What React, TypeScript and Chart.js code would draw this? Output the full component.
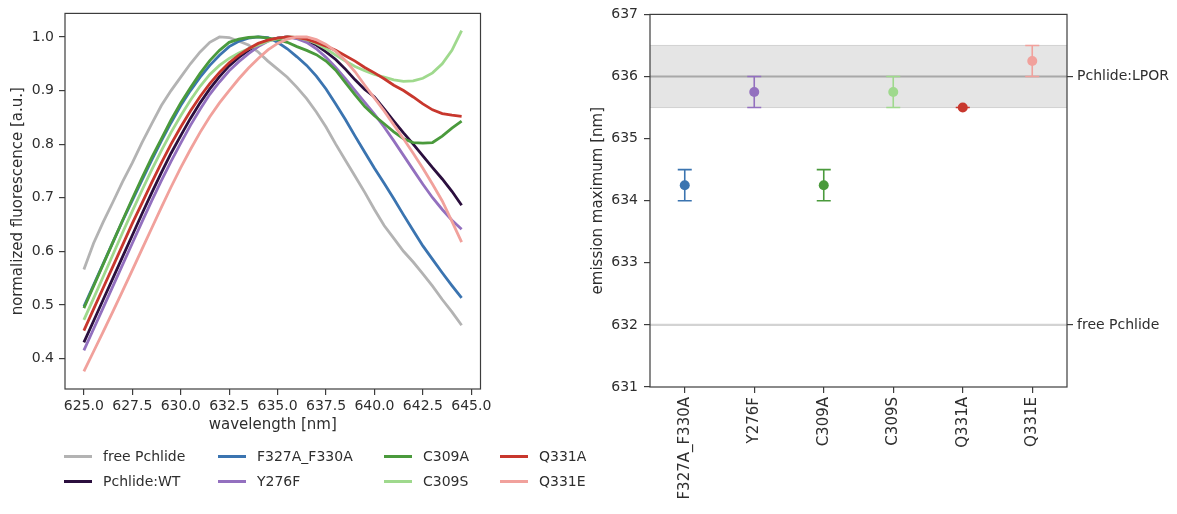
import React, { useEffect, useRef } from "react";
import { Chart, registerables } from "chart.js";

Chart.register(...registerables);

// ---------- data: left panel (normalized fluorescence spectra) ----------
const wavelengths = [
  625, 625.5, 626, 626.5, 627, 627.5, 628, 628.5, 629, 629.5,
  630, 630.5, 631, 631.5, 632, 632.5, 633, 633.5, 634, 634.5,
  635, 635.5, 636, 636.5, 637, 637.5, 638, 638.5, 639, 639.5,
  640, 640.5, 641, 641.5, 642, 642.5, 643, 643.5, 644, 644.5,
];

const freePchlide = [
  0.566, 0.615, 0.655, 0.692, 0.73, 0.765, 0.803, 0.838, 0.872, 0.9,
  0.925, 0.95, 0.972, 0.99, 1.0, 0.999, 0.992, 0.985, 0.972, 0.955,
  0.94, 0.925, 0.906, 0.885, 0.86, 0.832, 0.8, 0.77, 0.74, 0.71,
  0.678, 0.648, 0.624, 0.6, 0.58, 0.558, 0.535, 0.51, 0.487, 0.462,
];
const pchlideWT = [
  0.43, 0.47, 0.51, 0.55, 0.59, 0.63, 0.67, 0.709, 0.747, 0.783,
  0.816, 0.848, 0.877, 0.903, 0.926, 0.946, 0.962, 0.975, 0.986, 0.994,
  0.998, 1.0, 0.998, 0.993, 0.985, 0.972, 0.958, 0.94, 0.92, 0.902,
  0.888, 0.866, 0.843, 0.821, 0.8, 0.778, 0.756, 0.735, 0.712, 0.686,
];
const f327aF330a = [
  0.497, 0.537, 0.577, 0.617, 0.657, 0.695, 0.733, 0.77, 0.806, 0.84,
  0.872, 0.9, 0.925, 0.947, 0.966, 0.982, 0.992, 0.998, 1.0, 0.999,
  0.99, 0.978, 0.963, 0.947, 0.927, 0.903, 0.875, 0.846, 0.815, 0.785,
  0.755, 0.727, 0.698, 0.668, 0.639, 0.61, 0.585, 0.56, 0.536, 0.513,
];
const y276f = [
  0.415, 0.455, 0.495, 0.535, 0.575, 0.615, 0.655, 0.694, 0.732, 0.768,
  0.802, 0.835, 0.865, 0.893, 0.916, 0.937, 0.954, 0.969, 0.982, 0.992,
  0.998, 1.0, 0.997, 0.99, 0.978, 0.962, 0.943, 0.922, 0.9, 0.878,
  0.856, 0.832, 0.806, 0.779, 0.752, 0.725, 0.7, 0.678, 0.658, 0.641,
];
const c309a = [
  0.494, 0.535, 0.576, 0.617, 0.658, 0.698, 0.737, 0.775, 0.81, 0.845,
  0.877, 0.905, 0.932, 0.956, 0.975, 0.99, 0.996, 0.999, 1.0, 0.998,
  0.995, 0.99, 0.982, 0.975, 0.967, 0.955, 0.938, 0.915, 0.892, 0.87,
  0.853, 0.838, 0.823, 0.81, 0.803, 0.802, 0.803, 0.815, 0.83, 0.843,
];
const c309s = [
  0.472, 0.512, 0.553, 0.594, 0.635, 0.675, 0.714, 0.752, 0.788, 0.822,
  0.853, 0.882, 0.908, 0.93, 0.947, 0.96, 0.97, 0.978, 0.985, 0.992,
  0.997, 1.0, 0.999, 0.995, 0.988, 0.978, 0.966, 0.955, 0.945, 0.937,
  0.93, 0.925, 0.92, 0.917, 0.918, 0.923, 0.933, 0.95, 0.975, 1.012,
];
const q331a = [
  0.452, 0.492, 0.532, 0.572, 0.612, 0.652, 0.69, 0.728, 0.765, 0.8,
  0.832, 0.862, 0.889, 0.913, 0.934, 0.952, 0.966, 0.978, 0.988, 0.994,
  0.998, 1.0, 0.999, 0.996, 0.99, 0.983, 0.975, 0.965, 0.955, 0.943,
  0.933, 0.922, 0.91, 0.9, 0.888, 0.875, 0.864, 0.857, 0.854, 0.852,
];
const q331e = [
  0.376, 0.413, 0.45, 0.488, 0.526, 0.565, 0.604, 0.643, 0.682, 0.72,
  0.756, 0.79, 0.822, 0.851, 0.877, 0.9, 0.922, 0.942, 0.96, 0.976,
  0.988, 0.996, 1.0, 1.0, 0.995, 0.986, 0.973, 0.956, 0.935, 0.91,
  0.886, 0.862, 0.836, 0.81, 0.783, 0.755, 0.725, 0.694, 0.656, 0.617,
];

const seriesNames = [
  "free Pchlide", "Pchlide:WT", "F327A_F330A", "Y276F",
  "C309A", "C309S", "Q331A", "Q331E",
];
const seriesValues = [freePchlide, pchlideWT, f327aF330a, y276f, c309a, c309s, q331a, q331e];
const seriesColors = [
  "#b3b3b3", "#2b0f3e", "#3b74b0", "#9370bf",
  "#4a9a3c", "#9fd98d", "#c8372d", "#f1a19c",
];

const xTicks = [625, 627.5, 630, 632.5, 635, 637.5, 640, 642.5, 645];
const yTicks = [0.4, 0.5, 0.6, 0.7, 0.8, 0.9, 1.0];

// ---------- data: right panel (emission maximum) ----------
const categories = ["F327A_F330A", "Y276F", "C309A", "C309S", "Q331A", "Q331E"];
const emissionMax = [634.25, 635.75, 634.25, 635.75, 635.5, 636.25];
const emissionErr = [0.25, 0.25, 0.25, 0.25, 0, 0.25];
const categoryColors = ["#3b74b0", "#9370bf", "#4a9a3c", "#9fd98d", "#c8372d", "#f1a19c"];
const emTicks = [631, 632, 633, 634, 635, 636, 637];
const refTicks = [632, 636];
const refLabels = ["free Pchlide", "Pchlide:LPOR"];
const lporBand = [635.5, 636.5];
const lporLine = 636;
const freeLine = 632;

// ---------- styling ----------
const FONT_FAMILY = "'DejaVu Sans', sans-serif";
const TEXT = "#2e2e2e";
const FRAME = "#3d3d3d";
const font = { family: FONT_FAMILY, size: 14 };
const titleFont = { family: FONT_FAMILY, size: 15 };

const framePlugin = {
  id: "frame",
  afterDraw(chart: any) {
    const { ctx, chartArea: a } = chart;
    ctx.save();
    ctx.strokeStyle = FRAME;
    ctx.lineWidth = 1.2;
    ctx.strokeRect(a.left, a.top, a.right - a.left, a.bottom - a.top);
    ctx.restore();
  },
};

const refPlugin = {
  id: "refLines",
  beforeDatasetsDraw(chart: any) {
    const { ctx, chartArea: a } = chart;
    const y = chart.scales.y;
    const yHi = y.getPixelForValue(lporBand[1]);
    const yLo = y.getPixelForValue(lporBand[0]);
    ctx.save();
    ctx.fillStyle = "#e5e5e5";
    ctx.fillRect(a.left, yHi, a.right - a.left, yLo - yHi);
    ctx.strokeStyle = "#d2d2d2";
    ctx.lineWidth = 1;
    ctx.beginPath();
    ctx.moveTo(a.left, yHi); ctx.lineTo(a.right, yHi);
    ctx.moveTo(a.left, yLo); ctx.lineTo(a.right, yLo);
    ctx.stroke();
    const yL = y.getPixelForValue(lporLine);
    ctx.strokeStyle = "#a8a8a8";
    ctx.lineWidth = 2;
    ctx.beginPath(); ctx.moveTo(a.left, yL); ctx.lineTo(a.right, yL); ctx.stroke();
    const yF = y.getPixelForValue(freeLine);
    ctx.strokeStyle = "#d3d3d3";
    ctx.lineWidth = 2.2;
    ctx.beginPath(); ctx.moveTo(a.left, yF); ctx.lineTo(a.right, yF); ctx.stroke();
    ctx.restore();
  },
};

const errorBarPlugin = {
  id: "errorBars",
  beforeDatasetsDraw(chart: any) {
    const { ctx } = chart;
    const x = chart.scales.x;
    const y = chart.scales.y;
    ctx.save();
    ctx.lineWidth = 1.6;
    categories.forEach((_c, i) => {
      const px = x.getPixelForValue(i);
      const top = y.getPixelForValue(emissionMax[i] + emissionErr[i]);
      const bot = y.getPixelForValue(emissionMax[i] - emissionErr[i]);
      ctx.strokeStyle = categoryColors[i];
      ctx.beginPath();
      ctx.moveTo(px, top); ctx.lineTo(px, bot);
      ctx.moveTo(px - 7, top); ctx.lineTo(px + 7, top);
      ctx.moveTo(px - 7, bot); ctx.lineTo(px + 7, bot);
      ctx.stroke();
    });
    ctx.restore();
  },
};

const tickGrid = {
  display: true,
  drawOnChartArea: false,
  drawTicks: true,
  tickLength: 6,
  color: FRAME,
  lineWidth: 1.2,
};

export default function App() {
  const leftRef = useRef<HTMLCanvasElement>(null);
  const rightRef = useRef<HTMLCanvasElement>(null);

  useEffect(() => {
    const n = seriesNames.length;
    const left = new Chart(leftRef.current as HTMLCanvasElement, {
      type: "line",
      data: {
        datasets: seriesNames.map((name, i) => ({
          label: name,
          data: wavelengths.map((w, j) => ({ x: w, y: seriesValues[i][j] })),
          borderColor: seriesColors[i],
          backgroundColor: seriesColors[i],
          borderWidth: 2.8,
          pointRadius: 0,
          tension: 0,
          fill: false,
          order: n - 1 - i,
        })),
      },
      options: {
        animation: false,
        responsive: false,
        maintainAspectRatio: false,
        layout: { padding: { left: 0, top: 12, right: 79.5, bottom: 0 } },
        plugins: { legend: { display: false }, tooltip: { enabled: false } },
        scales: {
          x: {
            type: "linear",
            min: 624.025,
            max: 645.475,
            afterFit: (s: any) => { s.height = 51; },
            afterBuildTicks: (s: any) => { s.ticks = xTicks.map((v) => ({ value: v })); },
            ticks: {
              font, color: TEXT, padding: 3, maxRotation: 0, autoSkip: false,
              callback: (v: any) => Number(v).toFixed(1),
            },
            grid: tickGrid,
            border: { display: false },
            title: { display: true, text: "wavelength [nm]", font: titleFont, color: TEXT, padding: { top: 0, bottom: 6 } },
          },
          y: {
            type: "linear",
            min: 0.343,
            max: 1.044,
            afterFit: (s: any) => { s.width = 65; },
            afterBuildTicks: (s: any) => { s.ticks = yTicks.map((v) => ({ value: v })); },
            ticks: {
              font, color: TEXT, padding: 5, autoSkip: false,
              callback: (v: any) => Number(v).toFixed(1),
            },
            grid: tickGrid,
            border: { display: false },
            title: { display: true, text: "normalized fluorescence [a.u.]", font: titleFont, color: TEXT, padding: { top: 9, bottom: 0 } },
          },
        },
      } as any,
      plugins: [framePlugin],
    });

    const right = new Chart(rightRef.current as HTMLCanvasElement, {
      type: "line",
      data: {
        labels: categories,
        datasets: [
          {
            data: emissionMax,
            showLine: false,
            pointRadius: 5,
            pointBackgroundColor: categoryColors,
            pointBorderColor: categoryColors,
            pointBorderWidth: 0,
          },
        ],
      },
      options: {
        animation: false,
        responsive: false,
        maintainAspectRatio: false,
        layout: { padding: { left: 0, top: 12, right: 0, bottom: 0 } },
        plugins: { legend: { display: false }, tooltip: { enabled: false } },
        scales: {
          x: {
            type: "category",
            offset: true,
            afterFit: (s: any) => { s.height = 127; },
            ticks: { font: titleFont, color: TEXT, padding: 4, minRotation: 90, maxRotation: 90, autoSkip: false },
            grid: { ...tickGrid, offset: false },
            border: { display: false },
          },
          y: {
            type: "linear",
            position: "left",
            min: 631,
            max: 637,
            afterFit: (s: any) => { s.width = 90; },
            afterBuildTicks: (s: any) => { s.ticks = emTicks.map((v) => ({ value: v })); },
            ticks: { font, color: TEXT, padding: 6, autoSkip: false },
            grid: tickGrid,
            border: { display: false },
            title: { display: true, text: "emission maximum [nm]", font: titleFont, color: TEXT, padding: { top: 29, bottom: 0 } },
          },
          y2: {
            type: "linear",
            position: "right",
            min: 631,
            max: 637,
            afterFit: (s: any) => { s.width = 110; },
            afterBuildTicks: (s: any) => { s.ticks = refTicks.map((v) => ({ value: v })); },
            ticks: {
              font, color: TEXT, padding: 4, autoSkip: false,
              callback: (_v: any, idx: number) => refLabels[idx],
            },
            grid: tickGrid,
            border: { display: false },
          },
        },
      } as any,
      plugins: [refPlugin, errorBarPlugin, framePlugin],
    });

    return () => {
      left.destroy();
      right.destroy();
    };
  }, []);

  const legendColX = [64, 218, 384, 500];
  const legendRowY = [456, 481];

  return (
    <div style={{ position: "fixed", left: 0, top: 0, width: 1177, height: 514, background: "#ffffff", overflow: "hidden" }}>
      <canvas ref={leftRef} width={560} height={440} style={{ position: "absolute", left: 0, top: 0 }} />
      <canvas ref={rightRef} width={617} height={514} style={{ position: "absolute", left: 560, top: 0 }} />
      {seriesNames.map((name, i) => {
        const col = Math.floor(i / 2);
        const row = i % 2;
        const x = legendColX[col];
        const y = legendRowY[row];
        return (
          <div key={name}>
            <div style={{ position: "absolute", left: x, top: y - 1.5, width: 28, height: 3, background: seriesColors[i] }} />
            <div style={{ position: "absolute", left: x + 39, top: y - 9, height: 18, lineHeight: "18px", fontFamily: FONT_FAMILY, fontSize: 14, color: TEXT, whiteSpace: "nowrap" }}>
              {name}
            </div>
          </div>
        );
      })}
    </div>
  );
}
